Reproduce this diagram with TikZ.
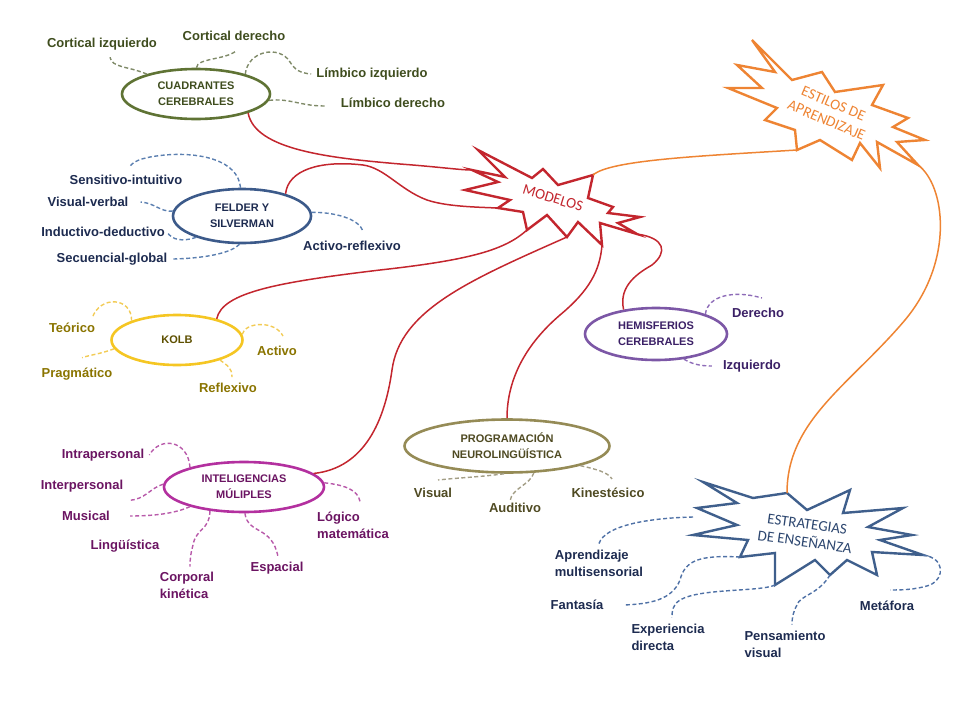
\documentclass[tikz,border=0pt]{standalone}
\usepackage{fontspec}
\setmainfont{Liberation Sans}
\newfontfamily\calibri{Carlito}
\usetikzlibrary{shapes.geometric}

\definecolor{verdeolivo}{HTML}{5F7334}
\definecolor{textoolivo}{HTML}{3F4D1E}
\definecolor{lineaolivo}{HTML}{7F8A68}
\definecolor{azulfs}{HTML}{3C5A8A}
\definecolor{textoazul}{HTML}{1D2B50}
\definecolor{lineaazul}{HTML}{5B7FB0}
\definecolor{amarillo}{HTML}{F5C623}
\definecolor{textokolb}{HTML}{5E5000}
\definecolor{textoamarillo}{HTML}{8A7400}
\definecolor{lineaamarilla}{HTML}{F2CB55}
\definecolor{morado}{HTML}{7C57A6}
\definecolor{textomorado}{HTML}{3B2066}
\definecolor{lineamorada}{HTML}{8E6CB8}
\definecolor{fucsia}{HTML}{B3309F}
\definecolor{textofucsia}{HTML}{6B1462}
\definecolor{lineafucsia}{HTML}{B85AAA}
\definecolor{caqui}{HTML}{958B56}
\definecolor{textocaqui}{HTML}{4F4A22}
\definecolor{lineacaqui}{HTML}{A39E86}
\definecolor{rojo}{HTML}{C3262E}
\definecolor{naranjo}{HTML}{EE8433}
\definecolor{azulest}{HTML}{3F5F8C}
\definecolor{textoest}{HTML}{2D4770}
\definecolor{lineaest}{HTML}{4F71A6}

\begin{document}
\begin{tikzpicture}[x=1pt,y=-1pt,
  ovalo/.style={ellipse,draw=#1,fill=white,line width=2.6pt,inner sep=0pt,align=center,
    font=\bfseries\fontsize{11}{16}\selectfont},
  etiqueta/.style={inner sep=2pt,align=left,font=\bfseries\fontsize{13}{17}\selectfont},
  punteado/.style={line width=1.4pt,dash pattern=on 4pt off 2.5pt},
  rama/.style={rojo,line width=1.5pt},
  estallido/.style={draw=#1,line width=2.4pt,line join=miter,fill=white},
  lema/.style={font=\calibri\fontsize{15}{18}\selectfont,align=center,inner sep=0pt}]
\useasboundingbox (0,0) rectangle (960,720);

\node[ovalo=verdeolivo,text=textoolivo,minimum width=148pt,minimum height=50pt] (cuad) at (196,94) {CUADRANTES\\CEREBRALES};
\node[etiqueta,textoolivo] (cortizq) at (102,44) {Cortical izquierdo};
\node[etiqueta,textoolivo] (cortder) at (234,36) {Cortical derecho};
\node[etiqueta,textoolivo] (limbizq) at (372,74) {Límbico izquierdo};
\node[etiqueta,textoolivo] (limbder) at (393,103) {Límbico derecho};

\node[ovalo=azulfs,text=textoazul,minimum width=138pt,minimum height=54pt] (felder) at (242,216) {FELDER Y\\SILVERMAN};
\node[etiqueta,textoazul] (sensit) at (126,180) {Sensitivo-intuitivo};
\node[etiqueta,textoazul] (visverb) at (88,202) {Visual-verbal};
\node[etiqueta,textoazul] (induct) at (103,232) {Inductivo-deductivo};
\node[etiqueta,textoazul] (secuen) at (112,259) {Secuencial-global};
\node[etiqueta,textoazul] (activref) at (352,246) {Activo-reflexivo};

\node[ovalo=amarillo,text=textokolb,minimum width=131pt,minimum height=50pt] (kolb) at (177,340) {KOLB};
\node[etiqueta,textoamarillo] (teorico) at (72,328) {Teórico};
\node[etiqueta,textoamarillo] (pragm) at (77,374) {Pragmático};
\node[etiqueta,textoamarillo] (activo) at (277,351) {Activo};
\node[etiqueta,textoamarillo] (reflex) at (228,388) {Reflexivo};

\node[ovalo=morado,text=textomorado,minimum width=142pt,minimum height=52pt] (hemis) at (656,334) {HEMISFERIOS\\CEREBRALES};
\node[etiqueta,textomorado] (derecho) at (758,313) {Derecho};
\node[etiqueta,textomorado] (izquierdo) at (752,366) {Izquierdo};

\node[ovalo=fucsia,text=textofucsia,minimum width=160pt,minimum height=50pt] (intel) at (244,487) {INTELIGENCIAS\\MÚLIPLES};
\node[etiqueta,textofucsia] (intra) at (103,455) {Intrapersonal};
\node[etiqueta,textofucsia] (inter) at (82,486) {Interpersonal};
\node[etiqueta,textofucsia] (musical) at (86,516) {Musical};
\node[etiqueta,textofucsia] (lingu) at (125,546) {Lingüística};
\node[etiqueta,textofucsia] (corporal) at (187,585) {Corporal\\kinética};
\node[etiqueta,textofucsia] (espacial) at (277,568) {Espacial};
\node[etiqueta,textofucsia] (logico) at (353,525) {Lógico\\matemática};

\node[ovalo=caqui,text=textocaqui,minimum width=205pt,minimum height=53pt] (progr) at (507,446) {PROGRAMACIÓN\\NEUROLINGÜÍSTICA};
\node[etiqueta,textocaqui] (visual) at (433,493) {Visual};
\node[etiqueta,textocaqui] (auditivo) at (515,508) {Auditivo};
\node[etiqueta,textocaqui] (kines) at (608,493) {Kinestésico};

\node[etiqueta,textoazul] (aprend) at (599,563) {Aprendizaje\\multisensorial};
\node[etiqueta,textoazul] (fantasia) at (577,605) {Fantasía};
\node[etiqueta,textoazul] (experi) at (668,637) {Experiencia\\directa};
\node[etiqueta,textoazul] (pensam) at (785,644) {Pensamiento\\visual};
\node[etiqueta,textoazul] (metafora) at (887,606) {Metáfora};

\draw[estallido=rojo] (478,150) -- (532,178) -- (543,169) -- (558,185) -- (593,175) coordinate (m5)
  -- (588,198) -- (613,207) -- (608,213) -- (640,217) -- (618,223) -- (637,234) coordinate (m11)
  -- (600,223) -- (602,245) coordinate (m13) -- (578,222) -- (567,237) coordinate (m15)
  -- (547,215) -- (527,230) coordinate (m17) -- (523,212) -- (498,208) coordinate (m19)
  -- (510,200) -- (465,190) -- (498,182) -- (472,170) coordinate (m23) -- (505,177) -- cycle;
\draw[estallido=naranjo] (752,40) -- (792,80) -- (822,72) -- (835,92) -- (883,85) -- (872,105)
  -- (908,118) -- (893,127) -- (925,140) -- (897,142) -- (918,165) coordinate (t11)
  -- (877,142) -- (880,168) -- (860,143) -- (852,160) -- (820,140) -- (797,150) coordinate (t17)
  -- (795,130) -- (765,120) -- (777,108) -- (728,88) -- (762,88) -- (737,65) -- (775,72) -- cycle;
\draw[estallido=azulest] (703,482) -- (753,498) -- (787,493) coordinate (s3) -- (807,510) -- (850,490)
  -- (843,513) -- (903,508) -- (868,527) -- (912,535) -- (880,540) -- (923,555) coordinate (s11)
  -- (872,552) -- (877,575) -- (847,560) -- (830,575) coordinate (s15) -- (815,560)
  -- (775,585) coordinate (s17) -- (775,553) -- (740,557) coordinate (s19) -- (748,540)
  -- (693,535) -- (737,525) -- (697,508) -- (737,503) -- cycle;
\coordinate (eapr) at (693,517);

\node[lema,rojo,rotate=-17] (modelos) at (553,198) {MODELOS};
\node[lema,naranjo,rotate=-23] (estilos) at (830,112) {ESTILOS DE\\APRENDIZAJE};
\node[lema,textoest,rotate=-8] (estrat) at (806,533) {ESTRATEGIAS\\DE ENSEÑANZA};

\draw[punteado,lineaolivo] (cuad.158) .. controls (128,66) and (112,68) .. ([shift={(8pt,-5pt)}]cortizq.south);
\draw[punteado,lineaolivo] (cuad.89) .. controls (197,58) and (225,60) .. ([shift={(2pt,-8pt)}]cortder.south);
\draw[punteado,lineaolivo] (cuad.22) .. controls (248,50) and (280,45) .. (290,62) .. controls (295,70) and (300,73) .. ([xshift=-3pt]limbizq.west);
\draw[punteado,lineaolivo] (cuad.-5) .. controls (290,98) and (300,106) .. ([shift={(-14pt,-3pt)}]limbder.west);

\draw[punteado,lineaazul] (felder.93) .. controls (238,160) and (200,152) .. (165,155) .. controls (145,157) and (135,160) .. ([shift={(4pt,7pt)}]sensit.north);
\draw[punteado,lineaazul] (felder.176) .. controls (160,212) and (155,203) .. ([xshift=10pt]visverb.east);
\draw[punteado,lineaazul] (felder.205) .. controls (182,242) and (172,240) .. (induct.east);
\draw[punteado,lineaazul] (felder.265) .. controls (232,252) and (210,258) .. ([xshift=4pt]secuen.east);
\draw[punteado,lineaazul] (felder.3) .. controls (332,212) and (360,218) .. ([shift={(11pt,7pt)}]activref.north);

\draw[punteado,lineaamarilla] (kolb.157) .. controls (132,297) and (100,295) .. ([shift={(-5pt,3pt)}]teorico.north east);
\draw[punteado,lineaamarilla] (kolb.188) .. controls (100,354) and (90,355) .. ([shift={(5pt,8pt)}]pragm.north);
\draw[punteado,lineaamarilla] (kolb.5) .. controls (245,322) and (275,320) .. ([shift={(6pt,8pt)}]activo.north);
\draw[punteado,lineaamarilla] (kolb.-25) .. controls (228,366) and (232,368) .. ([shift={(4pt,4pt)}]reflex.north);

\draw[punteado,lineamorada] (hemis.22) .. controls (708,295) and (735,290) .. ([shift={(4pt,8pt)}]derecho.north);
\draw[punteado,lineamorada] (hemis.-42) .. controls (692,364) and (700,366) .. ([xshift=-9pt]izquierdo.west);

\draw[punteado,lineafucsia] (intel.160) .. controls (188,440) and (160,436) .. ([xshift=3pt]intra.east);
\draw[punteado,lineafucsia] (intel.178) .. controls (150,488) and (145,500) .. ([shift={(3pt,-6pt)}]inter.south east);
\draw[punteado,lineafucsia] (intel.200) .. controls (178,512) and (160,516) .. ([xshift=18pt]musical.east);
\draw[punteado,lineafucsia] (intel.215) .. controls (210,530) and (196,528) .. (193,545) .. controls (191,552) and (190,558) .. ([shift={(3pt,3pt)}]corporal.north);
\draw[punteado,lineafucsia] (intel.-88) .. controls (248,535) and (272,525) .. ([shift={(1pt,3pt)}]espacial.north);
\draw[punteado,lineafucsia] (intel.3) .. controls (345,485) and (358,490) .. ([shift={(7pt,8pt)}]logico.north);

\draw[punteado,lineacaqui] (progr.-96) .. controls (480,477) and (455,478) .. ([shift={(5pt,6pt)}]visual.north);
\draw[punteado,lineacaqui] (progr.-45) .. controls (530,485) and (512,488) .. ([xshift=-5pt]auditivo.north);
\draw[punteado,lineacaqui] (progr.-15) .. controls (595,469) and (608,472) .. ([shift={(4pt,7pt)}]kines.north);

\draw[punteado,lineaest] (eapr) .. controls (650,518) and (605,525) .. ([yshift=4pt]aprend.north);
\draw[punteado,lineaest] (s19) .. controls (700,555) and (685,560) .. (680,580) .. controls (672,600) and (650,604) .. ([xshift=18pt]fantasia.east);
\draw[punteado,lineaest] (s17) .. controls (760,592) and (700,588) .. (680,600) .. controls (672,605) and (672,612) .. ([shift={(4pt,4pt)}]experi.north);
\draw[punteado,lineaest] (s15) .. controls (818,595) and (800,595) .. (797,605) .. controls (793,612) and (792,618) .. ([shift={(7pt,4pt)}]pensam.north);
\draw[punteado,lineaest] (s11) .. controls (945,558) and (945,578) .. (930,585) .. controls (915,590) and (900,590) .. ([shift={(3pt,9pt)}]metafora.north);

\draw[rama] (cuad.-20) .. controls (255,150) and (330,158) .. (400,164) .. controls (440,167) and (460,170) .. (m23);
\draw[rama] (felder.27) .. controls (288,170) and (320,160) .. (363,165) .. controls (385,168) and (400,190) .. (427,200) .. controls (445,206) and (470,207) .. (m19);
\draw[rama] (kolb.28) .. controls (222,292) and (280,282) .. (380,270) .. controls (470,260) and (505,250) .. (m17);
\draw[rama] (intel.11) .. controls (365,468) and (385,420) .. (392,370) .. controls (400,310) and (470,280) .. (m15);
\draw[rama] (progr.90) .. controls (507,380) and (525,345) .. (560,315) .. controls (590,290) and (600,270) .. (m13);
\draw[rama] (hemis.143) .. controls (618,285) and (640,272) .. (652,265) .. controls (668,252) and (665,238) .. (m11);

\draw[naranjo,line width=1.5pt] (m5) .. controls (610,160) and (700,156) .. (t17);
\draw[naranjo,line width=1.5pt] (t11) .. controls (945,185) and (955,260) .. (905,320) .. controls (850,385) and (787,420) .. (s3);
\end{tikzpicture}
\end{document}
